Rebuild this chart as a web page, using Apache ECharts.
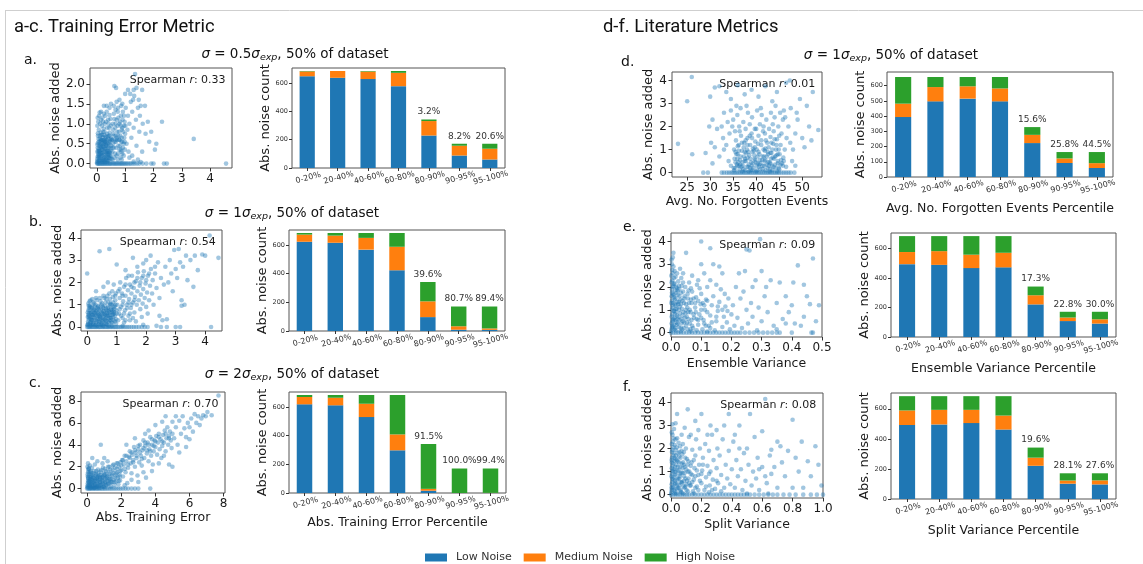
<!DOCTYPE html>
<html><head><meta charset="utf-8">
<script src="https://cdn.jsdelivr.net/npm/echarts@6/dist/echarts.min.js"></script>
<style>html,body{margin:0;padding:0;background:#fff}#c{width:1143px;height:564px}</style>
</head><body><div id="c"></div>
<script>
// ---------------- DATA ----------------
const categories = ['0-20%','20-40%','40-60%','60-80%','80-90%','90-95%','95-100%'];
const seriesNames = ['Low Noise','Medium Noise','High Noise'];

const lowA  = [647,636,627,577,229,88,60];
const medA  = [34,48,53,94,102,69,76];
const highA = [3,0,4,13,11,14,35];
const pctA  = [null,null,null,null,3.2,8.2,20.6];

const lowB  = [623,616,568,424,97,9,8];
const medB  = [50,50,82,164,110,24,10];
const highB = [11,18,34,96,135,138,153];
const pctB  = [null,null,null,null,39.6,80.7,89.4];

const lowC  = [619,612,530,298,16,0,0];
const medC  = [51,53,93,111,13,0,1];
const highC = [14,19,61,275,313,171,170];
const pctC  = [null,null,null,null,91.5,100.0,99.4];

const lowD  = [394,497,515,497,223,92,59];
const medD  = [88,94,81,85,54,30,32];
const highD = [175,66,61,75,51,42,73];
const pctD  = [null,null,null,null,15.6,25.8,44.5];

const lowE  = [494,489,467,472,221,108,91];
const medE  = [82,93,91,99,62,24,29];
const highE = [108,102,126,113,59,39,51];
const pctE  = [null,null,null,null,17.3,22.8,30.0];

const lowF  = [492,496,505,462,221,102,97];
const medF  = [97,97,88,93,54,21,27];
const highF = [95,91,91,129,67,48,47];
const pctF  = [null,null,null,null,19.6,28.1,27.6];

const spearman = [0.33,0.54,0.70,0.01,0.09,0.08];

const barTicks = [0,200,400,600];
const barTicksD = [0,100,200,300,400,500,600];
const ticksXA = [0,1,2,3,4];        const ticksYA = [0,0.5,1,1.5,2];
const ticksXB = [0,1,2,3,4];        const ticksYB = [0,1,2,3,4];
const ticksXC = [0,2,4,6,8];        const ticksYC = [0,2,4,6,8];
const ticksXD = [25,30,35,40,45,50];const ticksYD = [0,1,2,3,4];
const ticksXE = [0,0.1,0.2,0.3,0.4,0.5]; const ticksYE = [0,1,2,3,4];
const ticksXF = [0,0.2,0.4,0.6,0.8,1.0]; const ticksYF = [0,1,2,3,4];

// scatter points
const zeroRowA = [0.01,0.04,0.07,0.1,0.13,0.17,0.2,0.23,0.27,0.3,0.34,0.37,0.41,0.45,0.48,0.52,0.57,0.61,0.65,0.69,0.73,0.78,0.82,0.86,0.9,0.95,0.99,1.04,1.09,1.15,1.2,1.27,1.34,1.42,1.5,1.62,1.75,1.92,2.0,2.37,2.47,4.56];
const denseA = [[0.02,0.07],[0.06,0.2],[0.1,0.1],[0.14,0.4],[0.18,0.25],[0.22,0.1],[0.26,0.4],[0.3,0.3],[0.34,0.15],[0.38,0.5],[0.42,0.4],[0.46,0.28],[0.04,0.52],[0.09,0.45],[0.15,0.2],[0.2,0.35],[0.27,0.55],[0.32,0.45],[0.36,0.05],[0.44,0.15],[0.5,0.2],[0.08,0.3],[0.12,0.25],[0.25,0.08],[0.4,0.25],[0.55,0.4],[0.65,0.6],[0.75,0.7],[0.85,0.35],[0.95,0.2]];
const coreA = [[0.01,0.03],[0.03,0.18],[0.05,0.32],[0.02,0.48],[0.06,0.62],[0.04,0.76],[0.08,0.08],[0.09,0.22],[0.07,0.38],[0.1,0.5],[0.11,0.7],[0.13,0.15],[0.14,0.28],[0.12,0.44],[0.15,0.58],[0.16,0.72],[0.18,0.05],[0.19,0.2],[0.17,0.35],[0.2,0.52],[0.21,0.66],[0.22,0.8],[0.24,0.12],[0.25,0.3],[0.23,0.42],[0.26,0.6],[0.27,0.72],[0.29,0.04],[0.3,0.18],[0.31,0.38],[0.28,0.5],[0.32,0.68],[0.34,0.1],[0.35,0.26],[0.33,0.48],[0.36,0.58],[0.38,0.2],[0.39,0.4],[0.4,0.62],[0.41,0.08],[0.43,0.3],[0.44,0.5],[0.46,0.7],[0.47,0.12],[0.49,0.32],[0.51,0.45],[0.53,0.6],[0.02,0.3],[0.07,0.15],[0.13,0.55],[0.18,0.6],[0.24,0.22],[0.3,0.55],[0.37,0.32],[0.42,0.22],[0.48,0.6],[0.56,0.1],[0.6,0.4],[0.64,0.25],[0.68,0.55],[0.72,0.8],[0.76,0.45],[0.8,0.6],[0.84,0.15],[0.88,0.85],[0.92,0.4],[0.96,0.95],[0.66,1.0],[0.74,0.1],[0.82,1.05],[0.9,0.25],[0.98,0.55],[0.58,0.75],[0.7,0.65],[0.86,0.55]];
const scatterA = [[0.02,0.12],[0.05,0.25],[0.03,0.4],[0.08,0.55],[0.04,0.7],[0.1,0.18],[0.12,0.33],[0.15,0.48],[0.11,0.62],[0.07,0.85],[0.14,0.78],[0.18,0.1],[0.2,0.27],[0.17,0.42],[0.22,0.58],[0.19,0.72],[0.24,0.88],[0.26,0.15],[0.28,0.36],[0.25,0.5],[0.3,0.65],[0.27,0.8],[0.32,0.22],[0.35,0.45],[0.33,0.6],[0.36,0.75],[0.38,0.08],[0.4,0.3],[0.42,0.52],[0.39,0.68],[0.44,0.9],[0.46,0.2],[0.48,0.4],[0.5,0.62],[0.45,0.78],[0.52,0.12],[0.06,0.05],[0.09,0.32],[0.13,0.08],[0.16,0.6],[0.21,0.45],[0.23,0.05],[0.29,0.55],[0.31,0.1],[0.34,0.3],[0.37,0.9],[0.41,0.15],[0.43,0.7],[0.47,0.55],[0.02,0.95],[0.05,1.05],[0.08,1.2],[0.1,1.28],[0.03,1.15],[0.12,1.0],[0.15,1.1],[0.18,0.95],[0.2,1.15],[0.22,1.05],[0.25,1.25],[0.28,1.0],[0.3,1.2],[0.33,1.05],[0.35,1.3],[0.4,1.1],[0.42,1.0],[0.45,1.22],[0.5,0.95],[0.48,1.12],[0.55,0.3],[0.58,0.5],[0.6,0.7],[0.62,0.15],[0.65,0.9],[0.68,0.4],[0.7,1.1],[0.72,0.6],[0.75,0.25],[0.78,0.8],[0.8,1.0],[0.82,0.45],[0.85,1.2],[0.88,0.65],[0.9,0.9],[0.92,1.3],[0.95,0.5],[0.98,1.05],[1.0,0.75],[1.02,1.4],[0.57,1.0],[0.6,1.25],[0.63,0.55],[0.66,1.35],[0.7,0.2],[0.73,0.95],[0.76,1.15],[0.8,0.35],[0.83,0.7],[0.86,1.45],[0.88,0.1],[0.9,0.55],[0.93,0.8],[0.96,1.2],[0.99,0.35],[0.55,0.6],[0.58,0.85],[0.62,1.12],[0.67,0.7],[0.74,1.3],[0.79,0.6],[0.84,0.95],[0.87,0.3],[0.91,1.1],[0.97,0.65],[1.01,0.95],[0.6,1.45],[0.7,1.55],[0.8,1.6],[0.9,1.5],[0.75,1.4],[1.05,0.5],[1.08,0.85],[1.1,1.2],[1.12,0.3],[1.15,1.0],[1.2,1.55],[1.22,0.65],[1.25,1.3],[1.3,0.9],[1.32,1.7],[1.35,2.25],[1.38,1.1],[1.4,0.45],[1.45,1.4],[1.5,0.8],[1.55,1.45],[1.6,1.85],[1.62,1.0],[1.7,1.45],[1.72,0.75],[1.8,1.05],[1.85,0.55],[1.92,0.8],[2.05,0.35],[2.1,0.5],[2.3,1.05],[3.42,0.62],[0.62,1.95],[0.68,1.9],[1.1,1.85],[1.3,1.85],[1.0,1.75],[1.18,1.75],[0.5,1.5],[0.45,1.4],[0.35,1.45],[1.25,0.2],[1.45,0.1],[1.15,0.15],[1.6,0.3],[0.25,1.45],[0.15,1.3],[1.28,1.6],[1.52,1.2],[1.4,1.9],[1.48,1.6],[1.3,0.05],[1.55,0.04]];

const zeroRowB = [0.0,0.04,0.08,0.12,0.16,0.2,0.25,0.29,0.33,0.38,0.42,0.46,0.51,0.55,0.6,0.64,0.69,0.73,0.78,0.83,0.88,0.93,0.98,1.03,1.09,1.15,1.21,1.28,1.35,1.42,1.5,1.58,1.66,1.75,1.85,1.95,2.05,2.5,2.7,3.0,3.15,4.2];
const denseB = [[0.02,0.1],[0.07,0.5],[0.13,0.35],[0.19,0.15],[0.25,0.4],[0.31,0.1],[0.37,0.6],[0.43,0.45],[0.49,0.3],[0.55,0.7],[0.61,0.35],[0.67,0.5],[0.73,0.05],[0.79,0.3],[0.85,0.75],[0.04,0.75],[0.1,0.2],[0.16,0.55],[0.22,0.75],[0.28,0.6],[0.34,0.85],[0.4,0.25],[0.46,0.1],[0.52,0.45],[0.58,0.6],[0.64,0.15],[0.7,0.7],[0.76,0.4],[0.82,0.2],[0.88,0.6]];
const coreB = [[0.01,0.08],[0.03,0.25],[0.05,0.45],[0.02,0.65],[0.06,0.85],[0.08,0.12],[0.1,0.4],[0.12,0.6],[0.09,0.95],[0.14,0.1],[0.16,0.3],[0.18,0.7],[0.15,0.9],[0.2,0.45],[0.22,0.15],[0.24,0.62],[0.26,0.92],[0.28,0.3],[0.3,0.5],[0.32,0.75],[0.34,0.05],[0.36,0.35],[0.38,0.95],[0.4,0.55],[0.42,0.2],[0.44,0.75],[0.46,0.4],[0.48,0.98],[0.5,0.1],[0.52,0.6],[0.54,0.3],[0.56,0.85],[0.58,0.15],[0.6,0.55],[0.62,1.1],[0.64,0.3],[0.66,0.75],[0.68,0.1],[0.7,0.5],[0.72,0.9],[0.74,0.2],[0.76,0.65],[0.78,1.0],[0.8,0.4],[0.82,0.8],[0.84,0.05],[0.86,0.55],[0.88,1.1],[0.9,0.3],[0.92,0.8],[0.94,0.5],[0.96,1.0],[0.98,0.15],[1.0,0.6],[1.05,0.3],[1.1,0.8],[1.15,0.5],[1.2,1.0],[1.25,0.6],[1.3,0.3],[1.35,0.85],[1.4,1.1],[1.45,0.6],[1.5,1.0],[1.55,0.4],[1.6,1.2],[0.04,1.05],[0.11,1.2],[0.2,1.1],[0.3,1.3],[0.45,1.15],[0.55,1.4],[0.65,1.25],[0.75,1.5],[0.85,1.6],[0.95,1.4],[1.1,1.7],[1.2,1.4],[1.3,1.9],[1.5,1.8],[1.6,2.0],[1.7,2.2],[1.8,2.0],[1.9,2.3],[2.0,2.1],[2.1,2.4],[2.3,2.7]];
const scatterB = [[0.03,0.15],[0.06,0.35],[0.04,0.55],[0.09,0.75],[0.05,0.95],[0.12,0.2],[0.15,0.45],[0.13,0.65],[0.18,0.85],[0.2,0.1],[0.22,0.3],[0.25,0.55],[0.24,0.78],[0.28,1.0],[0.3,0.2],[0.33,0.42],[0.35,0.65],[0.37,0.9],[0.4,0.12],[0.42,0.35],[0.45,0.6],[0.47,0.82],[0.5,1.05],[0.52,0.25],[0.55,0.48],[0.57,0.72],[0.6,0.95],[0.62,0.15],[0.65,0.4],[0.67,0.62],[0.7,0.85],[0.72,1.1],[0.75,0.3],[0.78,0.55],[0.8,0.78],[0.83,1.0],[0.85,0.2],[0.88,0.45],[0.9,0.68],[0.93,0.92],[0.95,1.2],[0.98,0.35],[0.08,1.15],[0.1,0.05],[0.17,1.25],[0.27,0.08],[0.32,1.2],[0.38,0.5],[0.43,1.3],[0.48,0.15],[0.53,0.9],[0.58,1.3],[0.63,0.55],[0.68,1.4],[0.73,0.7],[0.77,1.25],[0.82,0.4],[0.87,1.35],[0.92,0.6],[0.97,1.5],[0.02,0.45],[0.07,0.62],[0.11,0.88],[0.14,0.3],[0.19,0.55],[0.23,1.05],[0.29,0.7],[0.34,0.25],[0.39,0.8],[0.44,0.48],[0.49,0.65],[0.54,0.05],[0.59,0.35],[0.64,0.82],[0.69,0.25],[0.74,0.5],[0.79,1.05],[0.84,0.65],[0.89,0.9],[0.94,0.25],[0.99,0.75],[1.02,1.0],[1.05,1.6],[1.08,0.6],[1.1,1.3],[1.12,2.0],[1.15,0.9],[1.18,1.5],[1.2,0.4],[1.22,1.15],[1.25,1.8],[1.28,0.75],[1.3,1.4],[1.32,2.2],[1.35,1.0],[1.38,1.65],[1.4,0.5],[1.42,1.25],[1.45,1.9],[1.48,0.85],[1.5,1.5],[1.52,2.3],[1.55,1.1],[1.58,1.75],[1.6,0.65],[1.62,1.35],[1.65,2.05],[1.68,1.0],[1.7,1.6],[1.72,2.45],[1.75,1.2],[1.78,1.85],[1.8,0.8],[1.82,1.45],[1.85,2.2],[1.88,1.05],[1.9,1.7],[1.92,2.5],[1.95,1.3],[1.98,1.95],[2.0,0.9],[2.03,1.55],[2.06,2.3],[2.1,1.2],[2.13,1.85],[2.16,2.6],[2.2,1.5],[2.22,2.1],[1.25,0.2],[1.45,0.3],[1.65,0.25],[1.85,0.45],[2.05,0.6],[2.25,1.0],[2.3,2.4],[2.35,1.75],[2.4,2.9],[2.45,1.3],[2.5,2.2],[2.55,0.3],[2.6,1.9],[2.65,2.7],[2.7,0.35],[2.75,2.0],[2.8,3.0],[2.85,2.4],[2.9,1.6],[2.95,3.45],[3.0,2.6],[3.05,2.2],[3.1,3.5],[3.15,2.9],[3.2,1.2],[3.25,2.7],[3.3,1.0],[3.35,3.2],[3.4,2.1],[3.5,3.0],[3.6,1.8],[3.65,3.2],[3.75,2.55],[3.9,3.25],[4.0,3.2],[4.15,4.1],[4.45,3.1],[2.15,3.2],[1.55,3.1],[0.42,3.4],[0.75,3.5],[0.0,2.4],[1.3,2.55],[1.0,2.8],[1.4,2.3],[1.7,2.7],[1.9,2.85],[2.0,3.0],[0.3,1.6],[0.55,1.8],[0.7,2.0],[0.9,1.9],[1.2,0.05],[1.9,0.1],[2.35,0.05],[3.2,0.95],[2.45,0.5]];

const zeroRowC = [0.0,0.07,0.14,0.21,0.28,0.36,0.44,0.52,0.6,0.68,0.77,0.86,0.95,1.04,1.14,1.24,1.35,1.46,1.58,1.7,1.83,1.96,2.1,2.25,2.4,2.6,2.8,3.0,3.7];
const denseC = [[0.03,0.2],[0.09,0.6],[0.15,0.3],[0.22,0.1],[0.29,0.55],[0.36,0.25],[0.43,0.7],[0.5,0.4],[0.57,0.9],[0.64,0.2],[0.71,0.6],[0.78,0.3],[0.85,0.8],[0.92,0.45],[0.99,0.15],[1.06,0.6],[1.13,1.0],[1.2,0.4],[1.3,0.8],[1.4,0.6],[0.06,1.0],[0.18,0.85],[0.33,1.0],[0.47,0.1],[0.61,1.2],[0.75,1.0],[0.9,1.1],[1.05,1.3]];
const coreC = [[0.02,0.1],[0.04,0.5],[0.06,0.9],[0.03,1.3],[0.07,1.7],[0.1,0.3],[0.12,0.7],[0.14,1.1],[0.16,1.5],[0.19,0.05],[0.21,0.45],[0.23,0.85],[0.26,1.25],[0.28,1.9],[0.31,0.2],[0.34,0.6],[0.36,1.0],[0.39,1.4],[0.42,0.05],[0.45,0.4],[0.48,0.8],[0.51,1.2],[0.54,1.6],[0.57,0.25],[0.6,0.65],[0.63,1.05],[0.66,1.45],[0.7,0.05],[0.73,0.45],[0.76,0.85],[0.8,1.25],[0.84,1.7],[0.88,0.2],[0.92,0.6],[0.96,1.0],[1.0,1.4],[1.05,1.8],[1.1,0.35],[1.15,0.75],[1.2,1.15],[1.25,1.55],[1.3,2.0],[1.35,0.5],[1.4,0.9],[1.45,1.3],[1.5,1.7],[1.55,2.2],[1.6,0.6],[1.65,1.0],[1.7,1.4],[1.75,1.8],[1.8,2.3],[1.85,0.7],[1.9,1.1],[1.95,1.6],[2.0,2.1],[2.1,2.6],[2.2,1.8],[2.3,3.0],[2.4,2.2],[2.5,2.8],[2.6,3.3],[2.7,2.4],[2.8,3.5],[2.9,3.0],[3.0,3.9],[3.1,3.3],[3.2,2.7],[3.3,3.7],[3.4,4.2],[3.5,3.5],[3.6,4.0],[3.7,3.4],[3.8,4.5],[3.9,3.9],[4.0,4.3],[4.2,4.7],[4.4,4.3],[4.6,5.0],[4.8,4.6]];
const scatterC = [[0.03,0.3],[0.05,0.7],[0.04,1.1],[0.06,1.5],[0.08,1.85],[0.1,0.15],[0.13,0.5],[0.15,0.9],[0.12,1.3],[0.18,0.25],[0.2,0.65],[0.22,1.05],[0.25,1.45],[0.28,0.4],[0.3,0.8],[0.33,1.2],[0.35,0.1],[0.38,0.55],[0.4,1.6],[0.43,0.95],[0.46,0.3],[0.5,0.7],[0.52,1.35],[0.55,0.15],[0.58,1.0],[0.6,0.45],[0.63,1.75],[0.66,0.8],[0.7,0.25],[0.73,1.2],[0.76,0.6],[0.8,1.55],[0.83,0.35],[0.86,1.0],[0.9,0.7],[0.93,1.9],[0.96,0.2],[1.0,1.25],[1.03,0.5],[1.06,0.9],[1.1,1.6],[1.13,0.3],[1.16,1.1],[1.2,0.7],[1.23,2.0],[1.26,0.45],[1.3,1.35],[1.33,0.9],[1.36,1.75],[1.4,0.2],[1.43,1.15],[1.46,0.6],[1.5,2.1],[1.53,1.45],[1.56,0.8],[1.6,0.35],[1.63,1.9],[1.66,1.2],[1.7,0.65],[1.73,2.3],[1.76,1.5],[1.8,1.0],[1.83,0.4],[1.86,2.0],[1.9,1.3],[1.93,0.75],[1.96,2.4],[0.02,2.0],[0.05,2.3],[0.1,1.8],[0.16,2.1],[0.3,2.8],[0.2,1.6],[0.45,2.2],[0.6,2.5],[0.8,4.0],[0.9,2.3],[1.0,2.8],[1.2,2.5],[2.0,1.7],[2.05,2.6],[2.1,1.1],[2.15,2.2],[2.2,3.0],[2.25,1.5],[2.3,2.5],[2.35,0.5],[2.4,1.9],[2.45,2.9],[2.5,3.4],[2.55,2.3],[2.6,1.4],[2.65,3.1],[2.7,2.6],[2.75,3.8],[2.8,2.0],[2.85,3.3],[2.9,2.8],[2.95,1.2],[3.0,3.6],[3.05,2.4],[3.1,4.0],[3.15,3.0],[3.2,2.1],[3.25,3.5],[3.3,4.4],[3.35,2.8],[3.4,3.9],[3.45,1.0],[3.5,3.2],[3.55,4.2],[3.6,2.5],[3.65,3.6],[3.7,4.7],[3.75,3.0],[3.8,4.0],[3.85,2.2],[3.9,3.4],[3.95,4.4],[4.0,3.8],[4.05,4.8],[4.1,3.1],[4.15,4.2],[4.2,5.0],[4.25,3.6],[4.3,4.5],[4.35,2.8],[4.4,3.9],[4.45,4.9],[4.5,4.2],[4.55,5.3],[4.6,3.4],[4.65,4.6],[4.7,5.6],[4.75,4.0],[4.8,4.8],[4.85,5.2],[4.9,4.4],[4.95,3.7],[5.0,5.0],[2.6,0.8],[3.0,0.6],[3.3,1.5],[3.8,1.6],[4.2,2.3],[4.8,2.2],[5.0,2.0],[2.3,4.0],[2.8,4.6],[3.4,5.0],[3.6,5.3],[4.0,5.8],[5.1,4.6],[5.2,5.6],[5.3,4.0],[5.4,6.2],[5.5,5.0],[5.6,6.6],[5.7,5.5],[5.8,4.7],[5.9,6.0],[6.0,5.6],[6.1,6.4],[6.2,5.2],[6.3,6.8],[6.4,6.0],[6.5,6.6],[6.6,5.8],[6.7,6.4],[6.8,6.7],[6.95,6.6],[7.05,7.0],[7.3,6.7],[7.7,8.5],[5.4,3.3],[5.8,3.8],[6.0,4.5],[5.2,6.6],[4.6,6.6],[4.4,6.1],[5.0,6.1],[2.2,0.3],[4.5,3.0]];

const zeroRowD = [29.5,32.5,33.0,33.6,34.1,34.6,35.0,35.4,35.8,36.2,36.6,37.0,37.4,37.8,38.2,38.6,39.0,39.4,39.8,40.2,40.6,41.0,41.4,41.8,42.2,42.6,43.0,43.4,43.8,44.2,44.6,45.0,45.5,46.0,46.5,47.0,47.5,48.3];
const denseD = [[35.4,0.2],[36.5,0.35],[37.6,0.6],[38.7,0.2],[39.8,0.55],[40.9,0.4],[42.0,0.55],[43.1,0.4],[44.2,0.2],[45.3,0.35],[35.9,0.3],[37.0,0.45],[38.1,0.65],[39.2,0.1],[40.3,0.7],[41.4,0.15],[42.5,0.9],[43.6,0.65],[44.7,0.8],[36.2,0.95],[38.3,0.9],[40.1,0.3],[41.6,1.0],[43.3,1.3],[44.9,1.0],[37.7,1.4],[39.7,1.1],[42.7,0.3],[46.0,0.5],[34.5,0.3]];
const coreD = [[35.2,0.1],[35.5,0.45],[35.7,0.8],[36.0,1.15],[36.3,0.3],[36.6,0.7],[36.9,1.3],[37.2,0.15],[37.5,0.5],[37.8,0.85],[38.1,1.2],[38.4,0.05],[38.7,0.6],[39.0,0.3],[39.3,1.05],[39.6,0.75],[39.9,0.45],[40.2,0.1],[40.5,0.9],[40.8,0.55],[41.1,1.4],[41.4,0.3],[41.7,0.7],[42.0,1.05],[42.3,0.35],[42.6,0.8],[42.9,0.05],[43.2,0.6],[43.5,1.0],[43.8,0.25],[44.1,0.7],[44.4,1.2],[44.7,0.4],[45.0,0.15],[45.4,0.55],[45.8,0.3],[36.4,1.8],[38.6,1.6],[40.0,1.9],[41.9,1.7],[43.8,1.8],[45.0,1.6],[37.3,1.1],[39.1,1.5],[42.4,1.3],[44.0,1.45],[35.9,0.6],[38.0,0.25],[40.7,0.35],[43.1,0.85]];
const scatterD = [[35.1,0.2],[35.3,0.6],[35.2,1.0],[35.6,1.4],[35.8,0.35],[36.0,0.8],[36.2,1.2],[36.4,0.15],[36.5,0.55],[36.7,1.6],[36.9,0.95],[37.1,0.3],[37.3,0.7],[37.4,1.3],[37.6,0.1],[37.8,0.5],[38.0,1.0],[38.1,1.5],[38.3,0.25],[38.5,0.75],[38.7,1.2],[38.9,0.45],[39.0,1.7],[39.2,0.9],[39.4,0.2],[39.6,0.6],[39.8,1.35],[40.0,0.05],[40.1,1.0],[40.3,0.4],[40.5,1.6],[40.7,0.8],[40.9,0.15],[41.1,1.2],[41.3,0.55],[41.5,1.8],[41.7,0.3],[41.9,0.95],[42.1,1.4],[42.3,0.7],[42.5,0.2],[42.7,1.1],[42.9,0.45],[43.1,1.55],[43.3,0.85],[43.5,0.1],[43.7,1.25],[43.9,0.6],[44.1,0.35],[44.3,1.0],[44.5,1.45],[44.7,0.5],[44.9,0.2],[45.1,0.8],[45.3,1.2],[45.6,0.4],[45.9,0.65],[46.2,1.0],[46.5,0.25],[36.1,0.45],[37.0,0.05],[38.4,0.35],[39.5,0.95],[40.6,0.25],[41.4,0.7],[42.6,0.45],[43.4,0.3],[44.4,0.75],[35.5,0.9],[36.8,0.25],[38.8,0.1],[40.4,1.25],[41.8,0.5],[43.0,0.15],[44.6,0.05],[37.5,0.9],[39.3,0.4],[42.0,0.1],[32.5,2.0],[32.8,1.5],[33.0,2.6],[33.5,1.2],[33.8,2.2],[34.2,1.7],[34.5,2.7],[34.8,2.0],[35.0,2.3],[35.4,1.8],[35.9,2.5],[36.3,2.0],[36.6,2.8],[37.2,2.2],[37.7,1.9],[38.2,2.6],[38.6,2.1],[39.1,2.4],[39.7,1.9],[40.2,2.7],[40.8,2.1],[41.2,2.5],[41.6,2.0],[42.2,2.3],[42.8,1.9],[43.2,2.6],[43.6,2.1],[44.0,2.4],[44.8,2.0],[45.2,2.6],[45.5,1.7],[45.8,2.3],[46.3,2.4],[46.6,1.5],[47.0,2.0],[47.4,1.3],[48.0,1.0],[44.2,2.9],[41.0,2.8],[37.9,2.9],[35.7,2.9],[46.0,2.7],[26.0,4.15],[25.0,3.1],[23.0,1.25],[26.1,0.8],[29.0,0.85],[30.0,3.3],[31.0,3.7],[32.0,3.75],[33.5,3.5],[34.5,3.2],[36.0,3.8],[37.5,3.4],[39.0,3.6],[40.5,3.3],[42.0,3.75],[43.5,3.1],[44.5,3.5],[46.5,3.9],[47.3,4.0],[49.5,3.2],[51.0,2.9],[52.3,3.5],[53.5,1.85],[52.0,1.4],[50.0,1.5],[49.0,2.3],[48.5,1.7],[47.8,0.5],[30.5,2.3],[31.5,1.9],[31.0,1.1],[30.5,0.4],[32.0,0.7],[33.0,1.0],[34.0,0.5],[48.5,0.3],[50.5,1.1],[51.5,2.0],[28.5,0.0],[29.8,2.0],[30.2,1.3],[47.5,2.8],[48.8,2.6]];

const zeroRowE = [0.0,0.008,0.016,0.024,0.033,0.042,0.051,0.06,0.07,0.08,0.09,0.1,0.11,0.12,0.13,0.14,0.15,0.16,0.17,0.18,0.19,0.2,0.21,0.22,0.23,0.245,0.26,0.275,0.29,0.305,0.32,0.335,0.35,0.36,0.4,0.47];
const denseE = [[0.004,0.3],[0.011,0.15],[0.019,0.35],[0.031,0.05],[0.042,0.2],[0.053,0.45],[0.064,0.15],[0.006,0.55],[0.013,0.8],[0.021,0.6],[0.035,0.4],[0.046,0.65],[0.057,0.9],[0.068,0.55],[0.005,1.2],[0.016,1.05],[0.024,1.25],[0.038,0.75],[0.049,1.0],[0.06,1.3],[0.003,1.75],[0.012,1.45],[0.022,1.85],[0.033,1.25],[0.044,1.5],[0.055,1.7],[0.066,1.95],[0.009,2.15],[0.026,2.05],[0.04,2.2],[0.075,1.5],[0.082,0.9],[0.09,1.4],[0.1,0.65],[0.11,1.2],[0.12,0.9]];
const coreE = [[0.001,0.1],[0.002,0.4],[0.002,0.7],[0.003,1.0],[0.001,1.3],[0.002,1.6],[0.003,1.9],[0.002,2.2],[0.001,2.5],[0.004,2.75],[0.007,0.25],[0.008,0.6],[0.009,0.95],[0.007,1.3],[0.009,1.65],[0.008,2.05],[0.01,2.4],[0.014,0.2],[0.015,0.55],[0.016,0.9],[0.017,1.2],[0.015,1.5],[0.018,1.75],[0.017,2.0],[0.023,0.4],[0.025,0.7],[0.027,1.0],[0.026,1.35],[0.028,1.6],[0.027,1.9],[0.032,0.2],[0.034,0.6],[0.036,1.05],[0.038,1.4],[0.04,1.8],[0.044,0.45],[0.048,0.85],[0.05,1.25],[0.055,0.15],[0.058,0.6],[0.062,1.0],[0.066,1.45],[0.07,0.3],[0.075,0.8],[0.08,1.3],[0.085,0.1],[0.09,0.55],[0.1,1.0],[0.11,0.4],[0.12,1.4],[0.13,0.2],[0.15,0.7],[0.17,1.0],[0.003,3.0],[0.006,3.3],[0.012,2.7],[0.02,2.6]];
const scatterE = [[0.003,0.2],[0.005,0.5],[0.004,0.8],[0.006,1.1],[0.003,1.4],[0.007,1.7],[0.005,2.0],[0.004,2.3],[0.006,2.6],[0.008,2.9],[0.01,0.35],[0.012,0.65],[0.011,0.95],[0.013,1.25],[0.01,1.55],[0.014,1.85],[0.012,2.15],[0.015,2.45],[0.016,0.1],[0.018,0.45],[0.02,0.75],[0.019,1.05],[0.021,1.35],[0.022,1.65],[0.02,1.95],[0.024,2.25],[0.026,0.25],[0.028,0.55],[0.03,0.85],[0.029,1.15],[0.031,1.45],[0.033,1.75],[0.035,2.05],[0.034,2.4],[0.037,0.15],[0.039,0.5],[0.041,0.9],[0.043,1.3],[0.045,1.6],[0.047,2.0],[0.05,0.3],[0.052,0.7],[0.054,1.1],[0.056,1.5],[0.058,1.85],[0.06,2.2],[0.002,3.2],[0.008,3.5],[0.03,2.8],[0.04,2.6],[0.062,0.4],[0.065,0.9],[0.068,1.3],[0.07,1.8],[0.073,0.2],[0.076,0.65],[0.08,1.1],[0.083,1.55],[0.086,2.1],[0.09,0.35],[0.094,0.8],[0.098,1.25],[0.1,1.7],[0.104,0.15],[0.108,0.55],[0.112,1.0],[0.116,1.45],[0.12,2.0],[0.125,0.3],[0.13,0.75],[0.135,1.2],[0.14,1.6],[0.145,0.1],[0.15,0.5],[0.155,0.95],[0.16,1.35],[0.165,1.9],[0.17,0.25],[0.175,0.7],[0.18,1.15],[0.185,0.45],[0.19,1.5],[0.195,0.15],[0.2,0.8],[0.07,2.5],[0.09,2.3],[0.11,2.6],[0.13,2.3],[0.15,2.1],[0.17,2.6],[0.1,3.0],[0.13,3.7],[0.1,4.0],[0.05,3.5],[0.14,3.0],[0.16,2.9],[0.12,0.05],[0.065,0.05],[0.085,0.6],[0.095,1.95],[0.105,1.3],[0.115,0.3],[0.135,0.45],[0.155,1.15],[0.178,1.7],[0.187,0.95],[0.205,1.2],[0.21,0.3],[0.215,2.0],[0.22,0.65],[0.23,1.5],[0.235,0.2],[0.24,1.8],[0.245,2.7],[0.25,1.0],[0.255,0.4],[0.26,3.6],[0.265,1.3],[0.27,0.7],[0.28,2.3],[0.285,0.1],[0.29,1.1],[0.295,4.1],[0.3,0.5],[0.31,1.6],[0.315,2.0],[0.32,0.9],[0.33,2.3],[0.34,0.3],[0.35,1.3],[0.36,2.2],[0.37,0.6],[0.38,1.6],[0.39,0.9],[0.405,2.2],[0.41,0.4],[0.42,2.95],[0.43,0.3],[0.44,2.1],[0.45,1.6],[0.46,1.25],[0.47,3.25],[0.48,0.5],[0.49,1.2],[0.225,2.6],[0.25,3.65],[0.27,2.0],[0.3,2.7],[0.35,0.15],[0.38,0.4],[0.4,1.2],[0.44,0.7],[0.465,0.0]];

const zeroRowF = [0.0,0.015,0.03,0.045,0.06,0.075,0.09,0.105,0.12,0.14,0.16,0.18,0.2,0.22,0.24,0.26,0.28,0.3,0.32,0.34,0.36,0.38,0.4,0.42,0.44,0.46,0.48,0.5,0.52,0.55,0.58,0.61,0.64,0.67,0.7,0.74,0.78,0.82,0.87,0.92,0.96,1.0];
const denseF = [[0.003,0.3],[0.02,0.2],[0.035,0.05],[0.05,0.3],[0.065,0.2],[0.08,0.05],[0.095,0.35],[0.008,0.7],[0.025,0.6],[0.04,0.45],[0.055,0.7],[0.07,0.5],[0.085,0.6],[0.1,0.45],[0.115,0.7],[0.01,1.05],[0.028,1.0],[0.045,1.2],[0.06,0.9],[0.075,1.15],[0.09,0.95],[0.11,1.3],[0.13,0.4],[0.006,1.4],[0.022,1.6],[0.038,1.5],[0.054,1.65],[0.07,1.9],[0.085,1.3],[0.12,1.0],[0.14,0.55],[0.16,0.8],[0.18,0.2],[0.2,0.9]];
const coreF = [[0.002,0.1],[0.004,0.45],[0.003,0.8],[0.005,1.15],[0.004,1.5],[0.006,1.85],[0.005,2.2],[0.012,0.3],[0.014,0.65],[0.013,1.0],[0.015,1.35],[0.016,1.7],[0.015,2.05],[0.017,2.45],[0.024,0.05],[0.026,0.45],[0.028,0.85],[0.027,1.2],[0.03,1.55],[0.032,1.95],[0.038,0.25],[0.04,0.65],[0.042,1.05],[0.044,1.45],[0.046,1.8],[0.05,2.25],[0.055,0.4],[0.058,0.8],[0.06,1.2],[0.063,1.6],[0.068,0.1],[0.072,0.55],[0.076,0.95],[0.08,1.4],[0.085,1.85],[0.09,0.3],[0.095,0.7],[0.1,1.1],[0.105,1.55],[0.11,0.15],[0.12,0.5],[0.13,1.25],[0.14,0.85],[0.15,1.5],[0.16,0.3],[0.17,1.05],[0.19,0.6],[0.21,1.3],[0.23,0.35],[0.25,0.9],[0.27,0.2],[0.3,0.6],[0.01,2.6],[0.03,2.4],[0.06,2.1]];
const scatterF = [[0.005,0.2],[0.008,0.55],[0.006,0.9],[0.01,1.25],[0.007,1.6],[0.009,1.95],[0.012,2.3],[0.005,2.7],[0.015,0.35],[0.018,0.75],[0.02,1.1],[0.022,1.45],[0.019,1.8],[0.024,2.15],[0.026,0.15],[0.03,0.5],[0.032,0.9],[0.035,1.3],[0.033,1.7],[0.038,2.05],[0.04,2.45],[0.043,0.3],[0.046,0.7],[0.05,1.05],[0.053,1.4],[0.056,1.85],[0.06,0.15],[0.063,0.55],[0.066,0.95],[0.07,1.35],[0.074,1.75],[0.078,2.2],[0.082,0.35],[0.086,0.8],[0.09,1.2],[0.094,1.6],[0.098,2.0],[0.102,0.2],[0.106,0.6],[0.11,1.0],[0.114,1.45],[0.118,2.5],[0.01,3.05],[0.02,2.85],[0.04,3.5],[0.07,2.6],[0.11,3.7],[0.09,2.9],[0.03,3.1],[0.125,0.4],[0.13,0.9],[0.135,1.4],[0.14,1.95],[0.145,0.15],[0.15,0.65],[0.155,1.15],[0.16,1.7],[0.165,2.4],[0.17,0.35],[0.18,0.85],[0.185,1.3],[0.19,2.0],[0.2,0.5],[0.205,1.05],[0.21,1.6],[0.22,0.2],[0.225,2.2],[0.23,0.75],[0.24,1.25],[0.25,1.9],[0.255,0.4],[0.26,1.0],[0.27,2.6],[0.275,0.65],[0.28,1.5],[0.29,0.25],[0.3,1.15],[0.305,2.0],[0.31,0.5],[0.32,1.7],[0.33,0.85],[0.34,2.4],[0.35,0.3],[0.36,1.3],[0.37,0.7],[0.38,1.9],[0.39,0.45],[0.4,1.1],[0.2,3.5],[0.16,3.2],[0.26,3.0],[0.3,2.8],[0.35,3.0],[0.24,2.6],[0.18,2.8],[0.15,0.05],[0.25,0.1],[0.33,0.15],[0.13,2.6],[0.41,2.3],[0.42,0.3],[0.43,1.5],[0.44,0.8],[0.45,2.0],[0.46,1.1],[0.47,0.2],[0.48,1.8],[0.49,0.6],[0.5,2.0],[0.51,1.3],[0.52,3.5],[0.53,0.4],[0.54,1.0],[0.55,2.5],[0.56,0.7],[0.57,1.6],[0.58,0.2],[0.6,2.75],[0.6,1.2],[0.62,4.15],[0.63,0.5],[0.65,1.7],[0.66,0.9],[0.68,1.2],[0.7,0.3],[0.72,2.1],[0.73,1.4],[0.75,0.8],[0.77,1.9],[0.8,3.25],[0.8,0.3],[0.82,1.6],[0.84,1.0],[0.86,2.3],[0.87,0.3],[0.9,1.45],[0.92,0.8],[0.95,2.1],[0.97,1.3],[0.99,0.4],[0.45,3.0],[0.38,3.5],[0.42,2.6],[0.5,0.05],[0.64,0.05],[0.7,2.3],[0.58,1.1],[0.66,1.95],[0.62,0.8]];

// ---------------- LAYOUT / STYLE ----------------
const FONT = 'DejaVu Sans';
const C_LOW = '#1f77b4', C_MED = '#ff7f0e', C_HIGH = '#2ca02c';
const panels = [
  {pts:scatterA, core:coreA.concat(denseA), zero:zeroRowA, r:spearman[0], xr:[-0.24,4.77], yr:[-0.11,2.4], xt:ticksXA, yt:ticksYA, xd:0, yd:1,
   low:lowA, med:medA, high:highA, pct:pctA, bmax:705, bt:barTicks,
   sg:{left:90,top:68,width:142,height:100}, bg:{left:292,top:68,width:213,height:100},
   syGap:24, byGap:18, sx:'', bx:'', sxGap:18, bxGap:24},
  {pts:scatterB, core:coreB.concat(denseB), zero:zeroRowB, r:spearman[1], xr:[-0.21,4.57], yr:[-0.18,4.35], xt:ticksXB, yt:ticksYB, xd:0, yd:0,
   low:lowB, med:medB, high:highB, pct:pctB, bmax:705, bt:barTicks,
   sg:{left:81,top:230,width:141,height:101}, bg:{left:289,top:230,width:216,height:101},
   syGap:16, byGap:18, sx:'', bx:'', sxGap:18, bxGap:24},
  {pts:scatterC, core:coreC.concat(denseC), zero:zeroRowC, r:spearman[2], xr:[-0.36,8.08], yr:[-0.4,8.82], xt:ticksXC, yt:ticksYC, xd:0, yd:0,
   low:lowC, med:medC, high:highC, pct:pctC, bmax:705, bt:barTicks,
   sg:{left:81,top:392,width:144,height:101}, bg:{left:289,top:392,width:217,height:101},
   syGap:16, byGap:18, sx:'Abs. Training Error', bx:'Abs. Training Error Percentile', sxGap:18, bxGap:23},
  {pts:scatterD, core:coreD.concat(denseD), zero:zeroRowD, r:spearman[3], xr:[21.7,54.3], yr:[-0.19,4.37], xt:ticksXD, yt:ticksYD, xd:0, yd:0,
   low:lowD, med:medD, high:highD, pct:pctD, bmax:690, bt:barTicksD,
   sg:{left:672,top:72,width:150,height:105}, bg:{left:887,top:72,width:226,height:105},
   syGap:12, byGap:18, sx:'Avg. No. Forgotten Events', bx:'Avg. No. Forgotten Events Percentile', sxGap:18, bxGap:25},
  {pts:scatterE, core:coreE.concat(denseE), zero:zeroRowE, r:spearman[4], xr:[0,0.5], yr:[-0.19,4.37], xt:ticksXE, yt:ticksYE, xd:1, yd:0,
   low:lowE, med:medE, high:highE, pct:pctE, bmax:705, bt:barTicks,
   sg:{left:671,top:233,width:151,height:104}, bg:{left:891,top:233,width:225,height:104},
   syGap:12, byGap:18, sx:'Ensemble Variance', bx:'Ensemble Variance Percentile', sxGap:20, bxGap:25},
  {pts:scatterF, core:coreF.concat(denseF), zero:zeroRowF, r:spearman[5], xr:[0,1.0], yr:[-0.145,4.41], xt:ticksXF, yt:ticksYF, xd:1, yd:0,
   low:lowF, med:medF, high:highF, pct:pctF, bmax:705, bt:barTicks,
   sg:{left:671,top:393,width:152,height:105}, bg:{left:891,top:393,width:225,height:106},
   syGap:12, byGap:18, sx:'Split Variance', bx:'Split Variance Percentile', sxGap:20, bxGap:25}
];

const grid=[], xAxis=[], yAxis=[], series=[], graphic=[];
const nameStyle = {fontFamily:FONT, fontSize:12.5, color:'#1a1a1a'};
function fmt(v,d){ return v.toFixed(d); }

panels.forEach((p,i)=>{
  // scatter
  let g = grid.length;
  grid.push(Object.assign({show:true, borderColor:'#555', borderWidth:1, backgroundColor:'transparent'}, p.sg));
  xAxis.push({type:'value', gridIndex:g, min:p.xr[0], max:p.xr[1],
    axisLine:{show:false,onZero:false}, splitLine:{show:false},
    axisTick:{show:true,length:3.5,customValues:p.xt,lineStyle:{color:'#333'}},
    axisLabel:{customValues:p.xt, formatter:v=>fmt(v,p.xd), fontFamily:FONT, fontSize:12, color:'#1a1a1a', margin:5},
    name:p.sx, nameLocation:'middle', nameGap:p.sxGap, nameTextStyle:nameStyle});
  yAxis.push({type:'value', gridIndex:g, min:p.yr[0], max:p.yr[1],
    axisLine:{show:false,onZero:false}, splitLine:{show:false},
    axisTick:{show:true,length:3.5,customValues:p.yt,lineStyle:{color:'#333'}},
    axisLabel:{customValues:p.yt, formatter:v=>fmt(v,p.yd), fontFamily:FONT, fontSize:12, color:'#1a1a1a', margin:5},
    name:'Abs. noise added', nameLocation:'middle', nameGap:p.syGap, nameTextStyle:Object.assign({},nameStyle,{fontSize:13})});
  series.push({type:'scatter', name:'pts'+i, xAxisIndex:g, yAxisIndex:g, silent:true,
    data:p.pts.concat(p.core, p.zero.map(x=>[x,0])), symbolSize:4.6,
    itemStyle:{color:C_LOW, opacity:0.42}});
  // spearman text
  graphic.push({type:'text', x:p.sg.left+p.sg.width*0.955, y:p.sg.top+p.sg.height*0.12,
    style:{text:'{n|Spearman }{i|r}{n|: '+p.r.toFixed(2)+'}', align:'right', verticalAlign:'middle',
      rich:{n:{fontFamily:FONT,fontSize:11,fill:'#1a1a1a'}, i:{fontFamily:FONT,fontSize:11,fontStyle:'italic',fill:'#1a1a1a'}}}});
  // bars
  g = grid.length;
  grid.push(Object.assign({show:true, borderColor:'#555', borderWidth:1, backgroundColor:'transparent'}, p.bg));
  xAxis.push({type:'category', gridIndex:g, data:categories, boundaryGap:true,
    axisLine:{show:false,onZero:false}, splitLine:{show:false},
    axisTick:{show:true,alignWithLabel:true,length:3,lineStyle:{color:'#333'}},
    axisLabel:{interval:0, rotate:15, align:'center', verticalAlign:'top', fontFamily:FONT, fontSize:8, color:'#333', margin:6},
    name:p.bx, nameLocation:'middle', nameGap:p.bxGap, nameTextStyle:nameStyle});
  yAxis.push({type:'value', gridIndex:g, min:0, max:p.bmax,
    axisLine:{show:false,onZero:false}, splitLine:{show:false},
    axisTick:{show:true,length:3,customValues:p.bt,lineStyle:{color:'#333'}},
    axisLabel:{customValues:p.bt, fontFamily:FONT, fontSize:6.5, color:'#333', margin:4},
    name:'Abs. noise count', nameLocation:'middle', nameGap:p.byGap, nameTextStyle:Object.assign({},nameStyle,{fontSize:13})});
  [[p.low,C_LOW],[p.med,C_MED],[p.high,C_HIGH]].forEach((s,k)=>{
    const ser = {type:'bar', name:seriesNames[k], stack:'st'+i, xAxisIndex:g, yAxisIndex:g, data:s[0],
      barWidth:'50%', itemStyle:{color:s[1]}, silent:true};
    if(k===2){
      ser.label = {show:true, position:'top', distance:3, fontFamily:FONT, fontSize:9, color:'#333',
        formatter: q => p.pct[q.dataIndex]==null ? '' : p.pct[q.dataIndex].toFixed(1)+'%'};
    }
    series.push(ser);
  });
});

// texts
const hdr = {fontFamily:'Roboto', fontSize:18.4, fill:'#111'};
graphic.push({type:'text', x:14, y:27, style:Object.assign({text:'a-c. Training Error Metric', align:'left', verticalAlign:'middle'},hdr)});
graphic.push({type:'text', x:603, y:27, style:Object.assign({text:'d-f. Literature Metrics', align:'left', verticalAlign:'middle'},hdr)});
const letters = [['a.',24,60],['b.',29,222],['c.',29,383],['d.',621,62],['e.',623,227],['f.',623,387]];
letters.forEach(l=>graphic.push({type:'text', x:l[1], y:l[2], style:{text:l[0], fontFamily:FONT, fontSize:14, fill:'#111', align:'left', verticalAlign:'middle'}}));
const titleRich = {n:{fontFamily:FONT,fontSize:13.5,fill:'#111',lineHeight:18},
  i:{fontFamily:FONT,fontSize:13.5,fontStyle:'italic',fill:'#111',lineHeight:18},
  s:{fontFamily:FONT,fontSize:9.5,fontStyle:'italic',fill:'#111',lineHeight:10,verticalAlign:'bottom'}};
const titles = [['0.5',295,54],['1',292,213],['2',292,374],['1',891,55]];
titles.forEach(t=>graphic.push({type:'text', x:t[1], y:t[2], style:{
  text:'{i|σ}{n| = '+t[0]+'}{i|σ}{s|exp}{n|, 50% of dataset}', align:'center', verticalAlign:'middle', rich:titleRich}}));
// notebook cell border lines
graphic.push({type:'line', shape:{x1:5,y1:10.5,x2:1143,y2:10.5}, style:{stroke:'#cfcfcf',lineWidth:1}});
graphic.push({type:'line', shape:{x1:5.5,y1:10.5,x2:5.5,y2:564}, style:{stroke:'#cfcfcf',lineWidth:1}});

const chart = echarts.init(document.getElementById('c'), null, {renderer:'canvas'});
chart.setOption({
  animation:false, backgroundColor:'#fff',
  grid, xAxis, yAxis, series, graphic,
  legend:{data:seriesNames, left:420, top:547, icon:'rect', itemWidth:22, itemHeight:8, itemGap:12,
    textStyle:{fontFamily:FONT, fontSize:11, color:'#333', padding:[0,0,0,4]}, selectedMode:false}
});
</script></body></html>
